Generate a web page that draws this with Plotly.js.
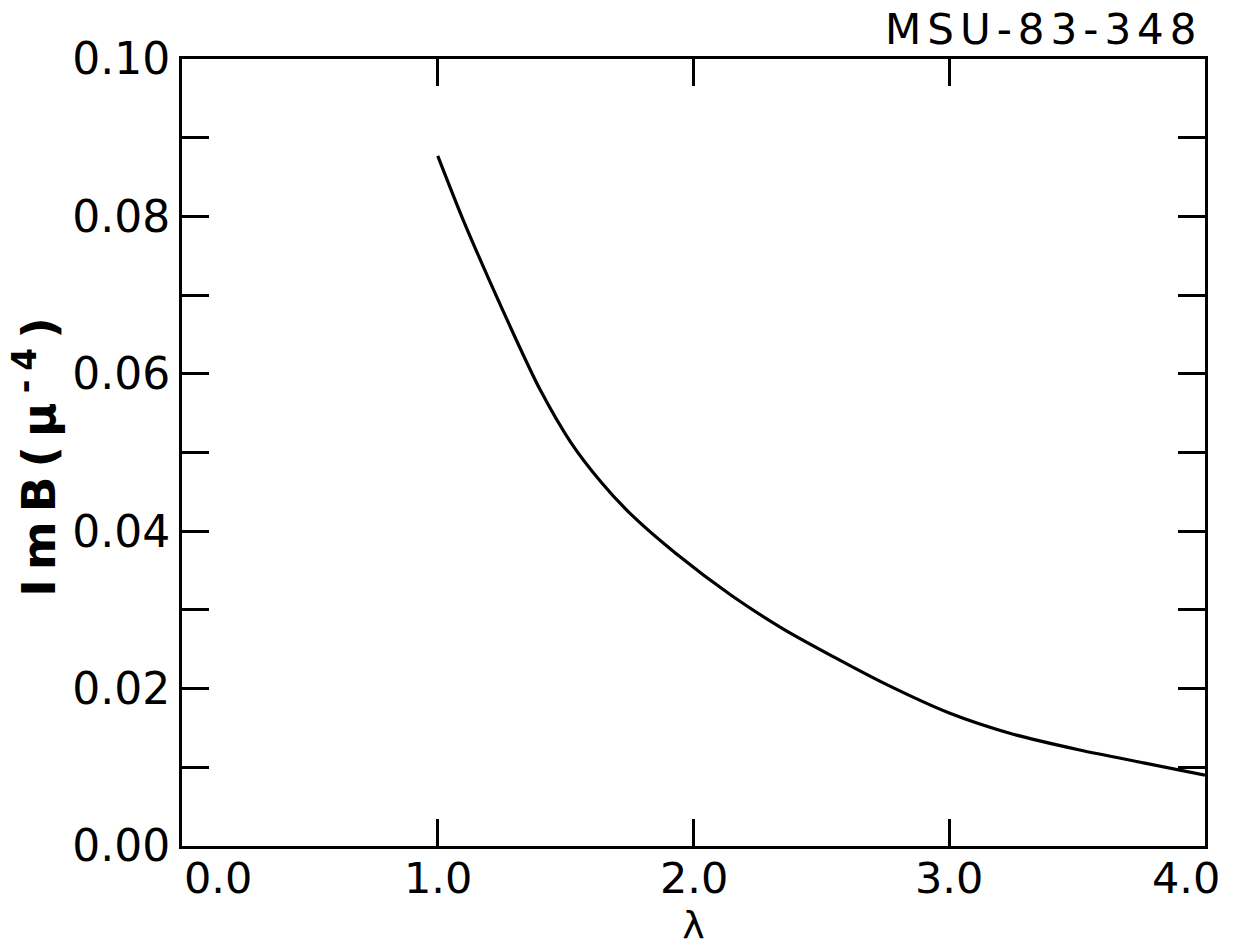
<!DOCTYPE html>
<html>
<head>
<meta charset="utf-8">
<script src="https://cdn.plot.ly/plotly-3.0.1.min.js"></script>
<style>
  html, body { margin: 0; padding: 0; background: #fff; }
  #chart { width: 1233px; height: 948px; }
  .ytitle { letter-spacing: 9px; }
</style>
</head>
<body>
<div id="chart"></div>
<script>
// Data
const lambda = [1.00, 1.10, 1.20, 1.30, 1.40, 1.52, 1.64, 1.76, 1.93, 2.15, 2.35, 2.55, 2.75, 3.00, 3.25, 3.51, 3.77, 4.00];
const imB    = [0.0877, 0.0795, 0.0720, 0.0648, 0.0580, 0.0513, 0.0462, 0.0420, 0.0372, 0.0318, 0.0276, 0.0240, 0.0206, 0.0169, 0.0142, 0.0122, 0.0105, 0.0090];

const xTickVals = [0, 1, 2, 3, 4];
const xTickText = ["0.0", "1.0", "2.0", "3.0", "4.0"];
const yTickVals = [0, 0.01, 0.02, 0.03, 0.04, 0.05, 0.06, 0.07, 0.08, 0.09, 0.10];
const yTickText = ["0.00", "", "0.02", "", "0.04", "", "0.06", "", "0.08", "", "0.10"];

const figureId = "MSU-83-348";
const xTitle = "λ";
const yTitle = "ImB(μ<sup>-4</sup>)";

const font = "DejaVu Sans, sans-serif";

const trace = {
  x: lambda,
  y: imB,
  mode: "lines",
  line: { color: "#000", width: 3.2, shape: "spline", smoothing: 0.8 },
  hoverinfo: "skip",
  showlegend: false,
  cliponaxis: false
};

const axisCommon = {
  showline: true, linecolor: "#000", linewidth: 3,
  mirror: "ticks", ticks: "inside", ticklen: 27, tickwidth: 3, tickcolor: "#000",
  showgrid: false, zeroline: false,
  tickfont: { family: font, size: 44, color: "#000" }
};

// x tick labels placed at the axis tick values (end labels pulled inside, as in the reference)
const n = xTickVals.length;
const xLabelAnnots = xTickVals.map((v, i) => ({
  text: xTickText[i],
  xref: "x", yref: "paper", x: v, y: 0,
  xanchor: i === 0 ? "left" : (i === n - 1 ? "right" : "center"),
  xshift: i === n - 1 ? 17 : 0,
  yanchor: "top", yshift: -5,
  showarrow: false,
  font: { family: font, size: 43, color: "#000" }
}));

const layout = {
  width: 1233, height: 948,
  paper_bgcolor: "#fff", plot_bgcolor: "#fff",
  margin: { l: 182, r: 28, t: 59, b: 102 },
  xaxis: Object.assign({}, axisCommon, {
    range: [0, 4],
    tickmode: "array", tickvals: xTickVals, ticktext: xTickText,
    showticklabels: false,
    title: { text: xTitle, font: { family: font, size: 38, color: "#000" }, standoff: 64 }
  }),
  yaxis: Object.assign({}, axisCommon, {
    range: [0, 0.10],
    tickmode: "array", tickvals: yTickVals, ticktext: yTickText,
    title: { text: yTitle, font: { family: font, size: 47, color: "#000", weight: "bold" }, standoff: 2 }
  }),
  annotations: xLabelAnnots.concat([{
    text: figureId,
    xref: "paper", yref: "paper", x: 1, y: 1,
    xanchor: "right", yanchor: "bottom", xshift: -30, yshift: 3,
    showarrow: false,
    font: { family: font, size: 42, color: "#000" }
  }])
};

Plotly.newPlot("chart", [trace], layout, { staticPlot: true, displayModeBar: false }).then(() => {
  // widen the id label's letter spacing like the reference lettering
  document.querySelectorAll(".annotation-text").forEach(t => {
    if (t.textContent === figureId) t.style.letterSpacing = "6px";
  });
});
</script>
</body>
</html>
